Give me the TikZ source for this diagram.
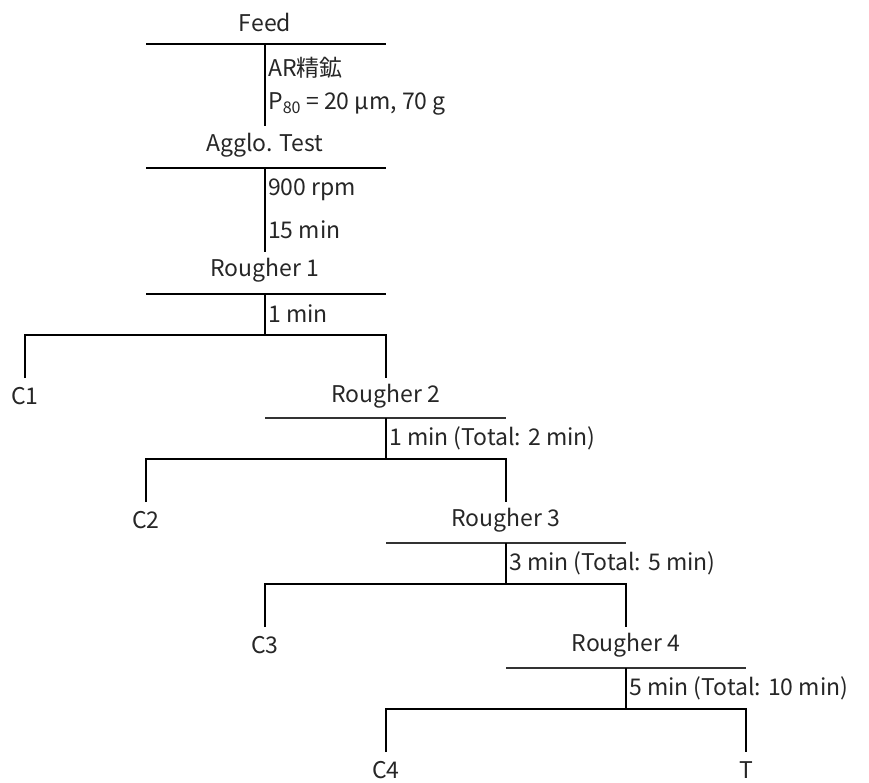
\documentclass[tikz,border=0pt]{standalone}
\usepackage{fontspec}
\setmainfont{Noto Sans CJK JP}
\usepackage{tikz}
\usetikzlibrary{positioning}

\begin{document}
\begin{tikzpicture}[x=1pt, y=-1pt]
\tikzstyle{stage} = [inner sep=0pt, text=black!85, font=\fontsize{23}{26}\selectfont]
\tikzstyle{cond} = [anchor=west, inner sep=0pt, text=black!85, font=\fontsize{23}{26}\selectfont]
\tikzstyle{pipe} = [line width=2pt, black]
\tikzstyle{head} = [line width=2pt, black]
\tikzstyle{thinhead} = [line width=1.3pt, black!80]

\useasboundingbox (0,0) rectangle (869,782);

% Feed and agglomeration
\node (feed) [stage] at (265,22) {Feed};
\coordinate (feedL) at (146,44);
\coordinate (feedR) at (386,44);
\coordinate (feedM) at (265,44);
\coordinate (feedE) at (265,126);
\node (ore) [cond] at (268,68) {AR精鉱};
\node (size) [cond] at (268,104) {P\textsubscript{80} = 20 µm, 70 g};

\node (agglo) [stage] at (265,145) {Agglo. Test};
\coordinate (aggloL) at (146,168);
\coordinate (aggloR) at (386,168);
\coordinate (aggloM) at (265,168);
\coordinate (aggloE) at (265,252);
\node (speed) [cond] at (268,190) {900 rpm};
\node (agtime) [cond] at (268,230) {15 min};

% Rougher 1
\node (r1) [stage] at (265,270) {Rougher 1};
\coordinate (r1L) at (146,294);
\coordinate (r1R) at (386,294);
\coordinate (r1M) at (265,294);
\coordinate (r1B) at (265,335);
\coordinate (r1cB) at (25,335);
\coordinate (r1tB) at (386,335);
\coordinate (r1cE) at (25,378);
\coordinate (r1tE) at (386,378);
\node (t1) [cond] at (268,314) {1 min};
\node (c1) [stage] at (25,396) {C1};

% Rougher 2
\node (r2) [stage] at (386,396) {Rougher 2};
\coordinate (r2L) at (265,418);
\coordinate (r2R) at (506,418);
\coordinate (r2M) at (386,418);
\coordinate (r2B) at (386,459);
\coordinate (r2cB) at (146,459);
\coordinate (r2tB) at (506,459);
\coordinate (r2cE) at (146,502);
\coordinate (r2tE) at (506,502);
\node (t2) [cond] at (389,438) {1 min (Total: 2 min)};
\node (c2) [stage] at (146,520) {C2};

% Rougher 3
\node (r3) [stage] at (506,520) {Rougher 3};
\coordinate (r3L) at (386,543);
\coordinate (r3R) at (626,543);
\coordinate (r3M) at (506,543);
\coordinate (r3B) at (506,584);
\coordinate (r3cB) at (265,584);
\coordinate (r3tB) at (626,584);
\coordinate (r3cE) at (265,627);
\coordinate (r3tE) at (626,627);
\node (t3) [cond] at (509,563) {3 min (Total: 5 min)};
\node (c3) [stage] at (265,645) {C3};

% Rougher 4
\node (r4) [stage] at (626,645) {Rougher 4};
\coordinate (r4L) at (506,668);
\coordinate (r4R) at (746,668);
\coordinate (r4M) at (626,668);
\coordinate (r4B) at (626,709);
\coordinate (r4cB) at (386,709);
\coordinate (r4tB) at (746,709);
\coordinate (r4cE) at (386,752);
\coordinate (r4tE) at (746,752);
\node (t4) [cond] at (629,688) {5 min (Total: 10 min)};
\node (c4) [stage] at (386,770) {C4};
\node (tail) [stage] at (746,770) {T};

% Lines
\draw [head] (feedL) -- (feedR);
\draw [pipe] (feedM) -- (feedE);
\draw [head] (aggloL) -- (aggloR);
\draw [pipe] (aggloM) -- (aggloE);
\draw [head] (r1L) -- (r1R);
\draw [pipe] (r1M) -- (r1B);
\draw [pipe] (r1cE) -- (r1cB) -- (r1tB) -- (r1tE);
\draw [thinhead] (r2L) -- (r2R);
\draw [pipe] (r2M) -- (r2B);
\draw [pipe] (r2cE) -- (r2cB) -- (r2tB) -- (r2tE);
\draw [thinhead] (r3L) -- (r3R);
\draw [pipe] (r3M) -- (r3B);
\draw [pipe] (r3cE) -- (r3cB) -- (r3tB) -- (r3tE);
\draw [thinhead] (r4L) -- (r4R);
\draw [pipe] (r4M) -- (r4B);
\draw [pipe] (r4cE) -- (r4cB) -- (r4tB) -- (r4tE);
\end{tikzpicture}
\end{document}
